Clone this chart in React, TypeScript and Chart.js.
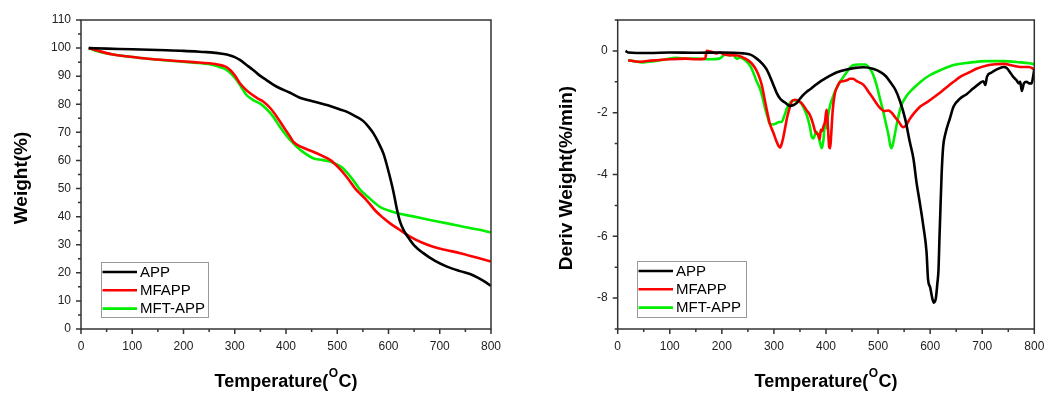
import React, { useEffect, useRef } from "react";
import { Chart, registerables } from "chart.js";
Chart.register(...registerables);

const FONT = "'Liberation Sans', Arial, sans-serif";

const seriesNames = ["APP", "MFAPP", "MFT-APP"];
const seriesColors = ["#000000", "#ff0000", "#00ee00"];

// ---- TGA (weight %) ----
const tgaAppT = [15, 50, 100, 150, 200, 240, 258, 275, 291, 300, 310, 323, 336, 349, 362, 375, 388, 408, 427, 450, 470, 486, 503, 518, 535, 551, 562, 570, 580, 590, 598, 605, 610, 616, 622, 630, 639, 650, 668, 690, 714, 740, 759, 775, 790, 800];
const tgaAppW = [100, 99.8, 99.6, 99.3, 99.0, 98.6, 98.4, 98.0, 97.4, 96.8, 95.8, 94.0, 92.2, 90.2, 88.6, 87.0, 85.7, 84.1, 82.3, 81.2, 80.2, 79.4, 78.3, 77.4, 75.8, 74.0, 71.8, 69.8, 66.5, 62.5, 57.5, 52.5, 48.5, 43, 38.5, 35, 32.5, 29.8, 27, 24.3, 22.2, 20.6, 19.6, 18.2, 16.6, 15.3];

const tgaMfappT = [15, 30, 60, 96, 130, 180, 220, 250, 271, 283, 291, 300, 310, 320, 330, 343, 356, 370, 382, 395, 408, 414, 430, 453, 470, 486, 505, 518, 535, 557, 575, 590, 603, 620, 642, 665, 687, 710, 740, 770, 800];
const tgaMfappW = [100, 99.2, 97.8, 96.9, 96.2, 95.5, 95.0, 94.6, 94.0, 93.3, 92.2, 90.3, 87.5, 85.5, 83.9, 82.3, 80.9, 78.5, 75.6, 72, 68.5, 66.7, 64.8, 63.1, 61.7, 60.2, 57, 54.2, 50, 45.9, 42, 39.5, 37.6, 35.5, 32.9, 30.8, 29.3, 28.2, 27.0, 25.5, 24];

const tgaMftT = [15, 30, 60, 96, 130, 193, 230, 258, 275, 284, 295, 304, 313, 323, 336, 349, 362, 375, 388, 398, 408, 421, 437, 453, 470, 486, 500, 509, 520, 531, 545, 560, 583, 600, 622, 650, 681, 715, 746, 775, 800];
const tgaMftW = [100, 99.0, 97.8, 96.9, 96.2, 95.2, 94.7, 94.0, 93.0, 92.2, 90.5, 88.6, 86, 83.3, 81.5, 80.3, 78.3, 75.6, 72, 69.5, 67.3, 64.9, 62.5, 60.8, 60.2, 59.6, 58.5, 57.6, 55.5, 53, 49.5, 47, 43.5, 42.2, 41.0, 40.0, 38.8, 37.6, 36.4, 35.4, 34.3];

// ---- DTG (deriv weight %/min) ----
const dtgAppT = [15, 20, 60, 100, 150, 200, 241, 255, 267, 277, 286, 299, 305, 312, 322, 331, 338, 344, 350, 356, 363, 369, 380, 388, 398, 408, 420, 440, 456, 472, 490, 504, 515, 523, 533, 542, 552, 561, 568, 574, 580, 587, 593, 596, 600, 604, 607, 611, 614, 616, 618, 619, 622, 625, 629, 638, 645, 657, 670, 683, 695, 702, 706, 709, 718, 728, 741, 747, 753, 760, 766, 770, 773, 776, 780, 785, 790, 795, 798, 800];
const dtgAppD = [0.0, -0.05, -0.07, -0.05, -0.06, -0.05, -0.08, -0.12, -0.25, -0.4, -0.6, -1.1, -1.35, -1.55, -1.68, -1.78, -1.75, -1.68, -1.55, -1.43, -1.32, -1.25, -1.1, -1.0, -0.9, -0.8, -0.7, -0.6, -0.55, -0.53, -0.58, -0.68, -0.82, -1.0, -1.25, -1.62, -2.2, -2.95, -3.5, -4.28, -4.9, -5.68, -6.5, -7.4, -7.65, -8.0, -8.15, -8.0, -7.5, -7.1, -6.0, -5.5, -4.0, -3.1, -2.7, -2.18, -1.8, -1.55, -1.4, -1.21, -1.05, -0.98, -1.1, -0.84, -0.7, -0.6, -0.52, -0.55, -0.68, -0.85, -0.95, -1.05, -1.0, -1.3, -1.05, -1.0, -1.05, -1.05, -0.8, -0.6];

const dtgMfappT = [20, 40, 60, 100, 130, 150, 168, 171, 180, 190, 196, 205, 216, 230, 241, 250, 260, 267, 273, 278, 283, 288, 292, 299, 305, 309, 312, 315, 318, 322, 325, 330, 334, 340, 346, 352, 356, 362, 369, 375, 379, 385, 388, 390, 392, 395, 398, 401, 404, 406, 408, 410, 413, 417, 422, 427, 433, 440, 446, 452, 459, 472, 484, 491, 504, 512, 520, 526, 532, 540, 548, 554, 561, 570, 581, 595, 613, 630, 645, 660, 677, 690, 709, 725, 741, 760, 773, 790, 800];
const dtgMfappD = [-0.3, -0.35, -0.32, -0.27, -0.25, -0.27, -0.25, 0.0, -0.03, -0.08, -0.05, -0.12, -0.14, -0.15, -0.22, -0.3, -0.46, -0.65, -0.9, -1.2, -1.64, -2.05, -2.35, -2.65, -2.93, -3.08, -3.13, -3.0, -2.8, -2.45, -2.18, -1.85, -1.64, -1.58, -1.6, -1.68, -1.75, -1.9, -2.07, -2.35, -2.6, -2.72, -2.85, -2.55, -2.6, -2.45, -2.3, -1.91, -2.56, -3.1, -3.15, -2.7, -1.9, -1.38, -1.15, -1.0, -0.98, -0.95, -0.9, -0.9, -0.98, -1.1, -1.38, -1.55, -1.85, -1.95, -1.93, -2.0, -2.13, -2.3, -2.47, -2.4, -2.2, -2.0, -1.8, -1.65, -1.43, -1.2, -1.0, -0.82, -0.68, -0.57, -0.47, -0.43, -0.42, -0.48, -0.52, -0.52, -0.6];

const dtgMftT = [20, 30, 49, 70, 90, 113, 130, 150, 177, 195, 203, 209, 215, 222, 228, 235, 248, 255, 260, 266, 273, 278, 283, 288, 292, 298, 305, 310, 315, 320, 325, 330, 337, 344, 350, 356, 363, 369, 373, 376, 379, 382, 386, 389, 392, 395, 398, 401, 404, 408, 412, 417, 422, 427, 433, 440, 446, 452, 463, 475, 484, 490, 497, 503, 510, 515, 520, 525, 528, 532, 538, 545, 555, 568, 583, 600, 620, 645, 675, 709, 740, 773, 790, 800];
const dtgMftD = [-0.3, -0.33, -0.37, -0.33, -0.28, -0.22, -0.25, -0.25, -0.27, -0.25, -0.15, -0.07, -0.15, -0.12, -0.25, -0.22, -0.35, -0.5, -0.68, -0.95, -1.21, -1.5, -1.86, -2.15, -2.36, -2.38, -2.34, -2.3, -2.29, -2.1, -1.86, -1.7, -1.6, -1.62, -1.65, -1.8, -2.07, -2.45, -2.8, -2.83, -2.7, -2.62, -2.8, -3.0, -3.15, -2.9, -2.4, -2.5, -2.1, -1.75, -1.55, -1.32, -1.15, -1.0, -0.85, -0.68, -0.55, -0.46, -0.44, -0.44, -0.57, -0.75, -1.1, -1.5, -1.97, -2.35, -2.72, -3.15, -3.05, -2.72, -2.2, -1.75, -1.45, -1.21, -0.98, -0.78, -0.62, -0.46, -0.38, -0.33, -0.33, -0.37, -0.4, -0.43];

const xTicks = [0, 100, 200, 300, 400, 500, 600, 700, 800];
const tgaYTicks = [0, 10, 20, 30, 40, 50, 60, 70, 80, 90, 100, 110];
const dtgYTicks = [-8, -6, -4, -2, 0];

const toPts = (xs: number[], ys: number[]) => xs.map((x, i) => ({ x, y: ys[i] }));

type Cfg = {
  yAxisW: number;
  padRight: number;
  yMin: number;
  yMax: number;
  yTicks: number[];
  yMinorStep: number;
  yTitle: string;
  yTitleX: number;
  legendBox: [number, number, number, number];
  series: { x: number[]; y: number[] }[];
  tension: number;
};

function makeChart(canvas: HTMLCanvasElement, c: Cfg) {
  const decor = {
    id: "decor",
    afterDraw(chart: any) {
      const { ctx, chartArea: a, scales } = chart;
      ctx.save();
      ctx.strokeStyle = "#333";
      ctx.lineWidth = 1.5;
      ctx.strokeRect(a.left, a.top, a.right - a.left, a.bottom - a.top);
      ctx.beginPath();
      for (let v = 0; v <= 800; v += 50) {
        const x = scales.x.getPixelForValue(v);
        const len = v % 100 === 0 ? 5 : 3;
        ctx.moveTo(x, a.bottom);
        ctx.lineTo(x, a.bottom + len);
      }
      const nMinor = Math.round((c.yMax - c.yMin) / c.yMinorStep);
      for (let i = 0; i <= nMinor; i++) {
        const v = c.yMin + i * c.yMinorStep;
        const y = scales.y.getPixelForValue(v);
        const len = c.yTicks.includes(v) ? 5 : 3;
        ctx.moveTo(a.left - len, y);
        ctx.lineTo(a.left, y);
      }
      ctx.stroke();

      // legend
      const [lx, ly, lw, lh] = c.legendBox;
      ctx.strokeStyle = "#999";
      ctx.lineWidth = 1;
      ctx.strokeRect(lx + 0.5, ly + 0.5, lw, lh);
      ctx.font = `15px ${FONT}`;
      ctx.textBaseline = "middle";
      ctx.textAlign = "left";
      seriesNames.forEach((n, i) => {
        const ry = ly + 10 + i * 18.3;
        ctx.strokeStyle = seriesColors[i];
        ctx.lineWidth = 2.6;
        ctx.beginPath();
        ctx.moveTo(lx + 1.5, ry);
        ctx.lineTo(lx + 36, ry);
        ctx.stroke();
        ctx.fillStyle = "#000";
        ctx.fillText(n, lx + 39, ry + 0.5);
      });

      // y title
      ctx.fillStyle = "#000";
      ctx.save();
      ctx.translate(c.yTitleX, 178);
      ctx.rotate(-Math.PI / 2);
      ctx.font = `bold 19px ${FONT}`;
      ctx.textAlign = "center";
      ctx.fillText(c.yTitle, 0, 0);
      ctx.restore();

      // x title with superscript
      const big = `bold 18px ${FONT}`;
      const small = `bold 12px ${FONT}`;
      ctx.textBaseline = "alphabetic";
      ctx.textAlign = "left";
      ctx.font = big;
      const w1 = ctx.measureText("Temperature(").width;
      const w3 = ctx.measureText("C)").width;
      ctx.font = small;
      const w2 = ctx.measureText("O").width + 1;
      const total = w1 + w2 + w3;
      const x0 = (a.left + a.right) / 2 - total / 2;
      const base = 387;
      ctx.font = big;
      ctx.fillText("Temperature(", x0, base);
      ctx.font = small;
      ctx.fillText("O", x0 + w1 + 0.5, base - 10);
      ctx.font = big;
      ctx.fillText("C)", x0 + w1 + w2, base);
      ctx.restore();
    },
  };

  return new Chart(canvas, {
    type: "line",
    data: {
      datasets: c.series.map((s, i) => ({
        label: seriesNames[i],
        data: toPts(s.x, s.y),
        borderColor: seriesColors[i],
        borderWidth: 2.6,
        pointRadius: 0,
        tension: c.tension,
        cubicInterpolationMode: c.tension > 0 ? "monotone" : "default",
        fill: false,
      })),
    },
    options: {
      animation: false,
      responsive: false,
      layout: { padding: { left: 0, right: c.padRight, top: 20, bottom: 0 } },
      plugins: { legend: { display: false }, tooltip: { enabled: false } },
      scales: {
        x: {
          type: "linear",
          min: 0,
          max: 800,
          grid: { display: false, drawTicks: true, tickLength: 5 },
          border: { display: false },
          afterBuildTicks: (s: any) => {
            s.ticks = xTicks.map((v) => ({ value: v }));
          },
          afterFit: (s: any) => {
            s.height = 67;
            s.paddingLeft = 0;
            s.paddingRight = 0;
          },
          ticks: {
            padding: 5,
            color: "#222",
            font: { family: FONT, size: 12 },
            maxRotation: 0,
            autoSkip: false,
          },
        },
        y: {
          type: "linear",
          min: c.yMin,
          max: c.yMax,
          grid: { display: false, drawTicks: true, tickLength: 5 },
          border: { display: false },
          afterBuildTicks: (s: any) => {
            s.ticks = c.yTicks.map((v) => ({ value: v }));
          },
          afterFit: (s: any) => {
            s.width = c.yAxisW;
            s.paddingTop = 0;
            s.paddingBottom = 0;
          },
          ticks: {
            padding: 5,
            color: "#222",
            font: { family: FONT, size: 12 },
            autoSkip: false,
          },
        },
      },
    } as any,
    plugins: [decor as any],
  });
}

export default function App() {
  const leftRef = useRef<HTMLCanvasElement>(null);
  const rightRef = useRef<HTMLCanvasElement>(null);

  useEffect(() => {
    const c1 = makeChart(leftRef.current!, {
      yAxisW: 81,
      padRight: 39,
      yMin: 0,
      yMax: 110,
      yTicks: tgaYTicks,
      yMinorStep: 5,
      yTitle: "Weight(%)",
      yTitleX: 22,
      legendBox: [101, 262, 107, 55],
      series: [
        { x: tgaAppT, y: tgaAppW },
        { x: tgaMfappT, y: tgaMfappW },
        { x: tgaMftT, y: tgaMftW },
      ],
      tension: 0.4,
    });
    const c2 = makeChart(rightRef.current!, {
      yAxisW: 87.7,
      padRight: 12.7,
      yMin: -9,
      yMax: 1,
      yTicks: dtgYTicks,
      yMinorStep: 1,
      yTitle: "Deriv Weight(%/min)",
      yTitleX: 37,
      legendBox: [107, 261, 109, 56],
      series: [
        { x: dtgAppT, y: dtgAppD },
        { x: dtgMfappT, y: dtgMfappD },
        { x: dtgMftT, y: dtgMftD },
      ],
      tension: 0.2,
    });
    return () => {
      c1.destroy();
      c2.destroy();
    };
  }, []);

  return (
    <div style={{ position: "absolute", left: 0, top: 0, width: 1047, height: 396, background: "#fff" }}>
      <canvas ref={leftRef} width={530} height={396} style={{ position: "absolute", left: 0, top: 0 }} />
      <canvas ref={rightRef} width={517} height={396} style={{ position: "absolute", left: 530, top: 0 }} />
    </div>
  );
}
